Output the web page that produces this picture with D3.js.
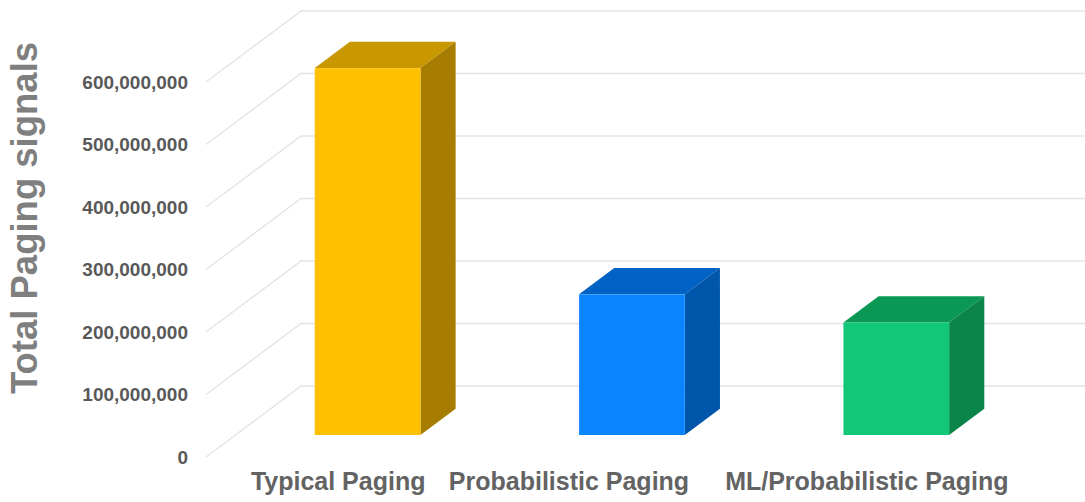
<!DOCTYPE html>
<html>
<head>
<meta charset="utf-8">
<script src="https://cdn.jsdelivr.net/npm/d3@7"></script>
<style>
  html, body { margin: 0; padding: 0; background: #ffffff; }
  svg { display: block; }
  text { font-family: "Liberation Sans", Arial, sans-serif; font-weight: bold; }
</style>
</head>
<body>
<svg id="chart" width="1085" height="502"></svg>
<script>
// Paging signal totals per scheme
const categories = ["Typical Paging", "Probabilistic Paging", "ML/Probabilistic Paging"];
const values = [587000000, 225000000, 180000000];
const tickValues = [0, 100000000, 200000000, 300000000, 400000000, 500000000, 600000000];
const axisTitle = "Total Paging signals";

// face colours: front, top, side
const frontColors = ["#FFC000", "#0A84FF", "#12C878"];
const topColors   = ["#C99800", "#0062C4", "#0B9855"];
const sideColors  = ["#A67D00", "#0056AA", "#0A8448"];

const W = 1085, H = 502;
const svg = d3.select("#chart");

// oblique projection: depth vector of the floor
const DX = 95, DY = 71;
const barFront = 0.31, barBack = 0.68;
const proj = (x, y, f) => [x + f * DX, y - f * DY];

const x = d3.scaleBand().domain(categories).range([206, 999]).paddingInner(0.6).paddingOuter(0.3);
const y = d3.scaleLinear().domain([0, 600000000]).range([457, 82]);

// gridlines: diagonal along the side wall, then horizontal along the back wall
const grid = svg.append("g");
tickValues.forEach(t => {
  const a = proj(206, y(t), 0), b = proj(206, y(t), 1);
  grid.append("path")
    .attr("d", d3.line()([a, b, [W + 10, b[1]]]))
    .attr("fill", "none")
    .attr("stroke", "#E4E4E4")
    .attr("stroke-width", 1.3);
});

// bars
const bars = svg.append("g");
categories.forEach((c, i) => {
  const x0 = x(c), x1 = x0 + x.bandwidth();
  const yb = y(0), yt = y(values[i]);
  const g = bars.append("g");
  // top face
  g.append("polygon")
    .attr("points", [proj(x0, yt, barFront), proj(x1, yt, barFront), proj(x1, yt, barBack), proj(x0, yt, barBack)].join(" "))
    .attr("fill", topColors[i]);
  // side face
  g.append("polygon")
    .attr("points", [proj(x1, yt, barFront), proj(x1, yt, barBack), proj(x1, yb, barBack), proj(x1, yb, barFront)].join(" "))
    .attr("fill", sideColors[i]);
  // front face
  const p0 = proj(x0, yt, barFront), p1 = proj(x1, yb, barFront);
  g.append("rect")
    .attr("x", p0[0]).attr("y", p0[1])
    .attr("width", p1[0] - p0[0]).attr("height", p1[1] - p0[1])
    .attr("fill", frontColors[i]);
});

// value axis labels
const fmt = d3.format(",");
svg.append("g").selectAll("text")
  .data(tickValues)
  .join("text")
  .attr("x", 188)
  .attr("y", d => y(d))
  .attr("dy", "0.36em")
  .attr("text-anchor", "end")
  .attr("font-size", 19)
  .attr("fill", "#595959")
  .text(d => fmt(d));

// category labels, nudged left when crowding the next label
const catG = svg.append("g");
const labels = categories.map(c => catG.append("text")
  .attr("y", 490)
  .attr("text-anchor", "middle")
  .attr("font-size", 25)
  .attr("fill", "#636363")
  .text(c));
const centers = categories.map(c => x(c) + x.bandwidth() / 2);
const widths = labels.map(l => l.node().getComputedTextLength());
const minGap = 36;
const placed = centers.slice();
for (let i = 0; i < categories.length - 1; i++) {
  const right = placed[i] + widths[i] / 2;
  const nextLeft = centers[i + 1] - widths[i + 1] / 2;
  if (right > nextLeft - minGap) placed[i] -= right - (nextLeft - minGap);
}
labels.forEach((l, i) => l.attr("x", placed[i]));

// axis title
svg.append("text")
  .attr("transform", "translate(37,218) rotate(-90)")
  .attr("text-anchor", "middle")
  .attr("font-size", 36.5)
  .attr("fill", "#7F7F7F")
  .text(axisTitle);
</script>
</body>
</html>
